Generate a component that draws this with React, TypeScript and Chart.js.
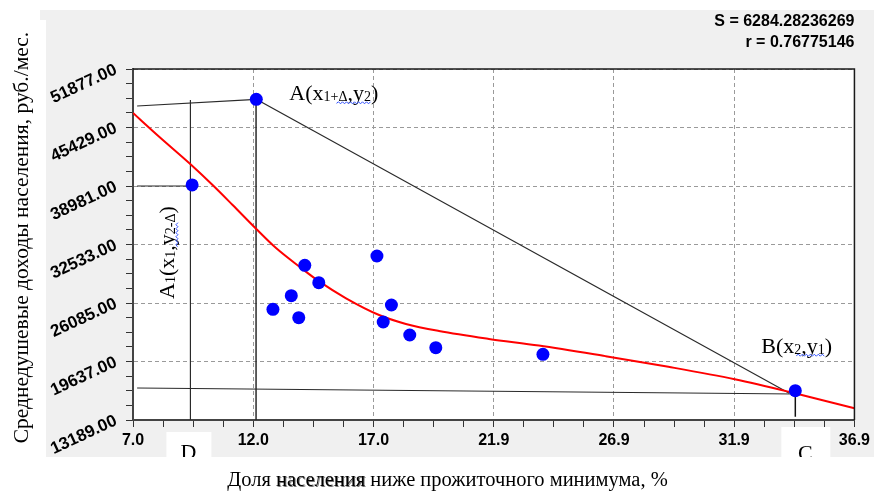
import React, { useEffect, useRef } from 'react';
import { Chart, registerables } from 'chart.js';

Chart.register(...registerables);

const W = 874;
const H = 493;

const X_MIN = 7.0;
const X_MAX = 36.9;
const Y_MIN = 13189;
const Y_MAX = 51877;

const xTickLabels = ['7.0', '12.0', '17.0', '21.9', '26.9', '31.9', '36.9'];
const yTickLabels = ['13189.00', '19637.00', '26085.00', '32533.00', '38981.00', '45429.00', '51877.00'];

// observed data points
const pointsX = [9.45, 12.11, 12.8, 13.56, 13.87, 14.12, 14.7, 17.11, 17.37, 17.71, 18.47, 19.55, 23.99, 34.45];
const pointsY = [39100, 48537, 25390, 26889, 24465, 30240, 28322, 31265, 23991, 25864, 22558, 21158, 20430, 16418];

// fitted (red) curve
const curveX = [7.0, 8.12, 9.35, 10.32, 11.13, 12.11, 12.94, 13.9, 14.73, 15.83, 17.2, 18.31, 19.68, 21.75, 23.82, 26.58, 29.19, 31.94, 34.43, 36.9];
const curveY = [47027, 44326, 41460, 39036, 36886, 34241, 32114, 30086, 28433, 26603, 24762, 23780, 22998, 22129, 21404, 20230, 19055, 17680, 16140, 14490];

// construction lines
const lineTopX = [7.17, 12.11];
const lineTopY = [47798, 48537];
const lineDiagX = [12.11, 34.2];
const lineDiagY = [48537, 16130];
const lineBottomX = [7.17, 34.45];
const lineBottomY = [16716, 16055];
const lineDX = [9.38, 9.38];
const lineDY = [48459, 13189];
const lineA1X = [7.17, 9.38];
const lineA1Y = [38980, 38980];
const lineAX = [12.1, 12.1];
const lineAY = [48537, 13189];
const lineCX = [34.45, 34.45];
const lineCY = [15834, 13553];

const statS = 'S = 6284.28236269';
const statR = 'r = 0.76775146';
const yTitle = 'Среднедушевые доходы населения, руб./мес.';
const xTitlePre = 'Доля ';
const xTitleMid = 'населения';
const xTitlePost = ' ниже прожиточного минимума, %';

const pairs = (xs: number[], ys: number[]) => xs.map((x, i) => ({ x, y: ys[i] }));

const SANS = '"Liberation Sans", Arial, sans-serif';
const SERIF = '"Liberation Serif", "Times New Roman", serif';

type Seg = { t: string; sub?: boolean };

function drawSegs(ctx: CanvasRenderingContext2D, segs: Seg[], x: number, y: number) {
  let cx = x;
  for (const s of segs) {
    ctx.font = s.sub ? `14px ${SERIF}` : `22px ${SERIF}`;
    ctx.fillText(s.t, cx, s.sub ? y + 1 : y);
    cx += ctx.measureText(s.t).width;
  }
  return cx;
}

function segWidth(ctx: CanvasRenderingContext2D, segs: Seg[], upto: number) {
  let w = 0;
  for (let i = 0; i < upto; i++) {
    ctx.font = segs[i].sub ? `14px ${SERIF}` : `22px ${SERIF}`;
    w += ctx.measureText(segs[i].t).width;
  }
  return w;
}

function wavy(ctx: CanvasRenderingContext2D, x0: number, x1: number, y: number) {
  ctx.save();
  ctx.strokeStyle = '#3050ff';
  ctx.lineWidth = 1;
  ctx.beginPath();
  let up = true;
  ctx.moveTo(x0, y);
  for (let x = x0 + 2; x <= x1; x += 2) {
    ctx.lineTo(x, up ? y - 1.5 : y + 0.5);
    up = !up;
  }
  ctx.stroke();
  ctx.restore();
}

function buildTicks(min: number, max: number, labels: string[]) {
  const n = labels.length - 1;
  const step = (max - min) / n;
  const ticks: any[] = [];
  for (let i = 0; i <= n; i++) {
    for (let k = 0; k < 4; k++) {
      if (i === n && k > 0) break;
      const v = min + i * step + (k * step) / 4;
      ticks.push({ value: v, major: k === 0, lbl: k === 0 ? labels[i] : '' });
    }
  }
  return ticks;
}

const decorPlugin = {
  id: 'decor',
  beforeDraw(chart: any) {
    const { ctx, chartArea, scales } = chart;
    ctx.save();
    ctx.fillStyle = '#ffffff';
    ctx.fillRect(0, 0, W, H);
    ctx.fillStyle = '#f0f0f0';
    ctx.fillRect(40, 10, W - 40, 10);
    ctx.fillRect(46, 20, W - 46, 437);
    ctx.fillStyle = '#ffffff';
    ctx.fillRect(chartArea.left, chartArea.top, chartArea.right - chartArea.left, chartArea.bottom - chartArea.top);
    const xD = scales.x.getPixelForValue(lineDX[0]);
    const xC = scales.x.getPixelForValue(lineCX[0]);
    ctx.fillRect(xD - 24, 432, 45, 25);
    ctx.fillRect(xC - 14, 427, 49, 30);
    ctx.restore();
  },
  afterDraw(chart: any) {
    const { ctx, chartArea, scales } = chart;
    const sx = scales.x;
    const sy = scales.y;
    ctx.save();
    // frame top/right
    ctx.strokeStyle = '#1a1a1a';
    ctx.lineWidth = 1.5;
    ctx.beginPath();
    ctx.moveTo(chartArea.left, chartArea.top);
    ctx.lineTo(chartArea.right, chartArea.top);
    ctx.lineTo(chartArea.right, chartArea.bottom);
    ctx.stroke();

    ctx.fillStyle = '#000';
    // stats
    ctx.font = `bold 16px ${SANS}`;
    ctx.textAlign = 'right';
    ctx.textBaseline = 'alphabetic';
    ctx.fillText(statS, chartArea.right, 26);
    ctx.fillText(statR, chartArea.right, 47);

    // axis titles
    ctx.textAlign = 'left';
    ctx.font = `20.5px ${SERIF}`;
    const wPre = ctx.measureText(xTitlePre).width;
    const wMid = ctx.measureText(xTitleMid).width;
    const wPost = ctx.measureText(xTitlePost).width;
    const total = wPre + wMid + wPost;
    const tx = 447.5 - total / 2;
    const ty = 486;
    ctx.fillStyle = '#000';
    ctx.fillText(xTitlePre, tx, ty);
    ctx.fillStyle = 'rgba(0,0,0,0.55)';
    ctx.fillText(xTitleMid, tx + wPre + 1, ty + 1);
    ctx.fillStyle = '#000';
    ctx.fillText(xTitleMid, tx + wPre, ty);
    ctx.fillText(xTitlePost, tx + wPre + wMid, ty);

    ctx.save();
    ctx.translate(28, 237.5);
    ctx.rotate(-Math.PI / 2);
    ctx.textAlign = 'center';
    ctx.font = `21.5px ${SERIF}`;
    ctx.fillText(yTitle, 0, 0);
    ctx.restore();

    // point annotations
    ctx.fillStyle = '#000';
    ctx.textAlign = 'left';
    const ax = sx.getPixelForValue(pointsX[1]);
    const ay = sy.getPixelForValue(pointsY[1]);
    const segA: Seg[] = [{ t: 'A(x' }, { t: '1+Δ', sub: true }, { t: ',y' }, { t: '2', sub: true }, { t: ')' }];
    const aStart = ax + 33;
    drawSegs(ctx, segA, aStart, ay + 1);
    wavy(ctx, aStart + segWidth(ctx, segA, 1) + 13, aStart + segWidth(ctx, segA, 4), ay + 4);

    const bx = sx.getPixelForValue(pointsX[13]);
    const by = sy.getPixelForValue(pointsY[13]);
    const segB: Seg[] = [{ t: 'B(x' }, { t: '2', sub: true }, { t: ',y' }, { t: '1', sub: true }, { t: ')' }];
    const bStart = bx - 34;
    drawSegs(ctx, segB, bStart, by - 38);
    wavy(ctx, bStart + segWidth(ctx, segB, 1) + 2, bStart + segWidth(ctx, segB, 4), by - 35);

    const a1x = sx.getPixelForValue(lineDX[0]) - 16;
    const a1y = sy.getPixelForValue(pointsY[0]) + 114;
    ctx.save();
    ctx.translate(a1x, a1y);
    ctx.rotate(-Math.PI / 2);
    const segA1: Seg[] = [
      { t: 'A' }, { t: '1', sub: true }, { t: '(x' }, { t: '1', sub: true }, { t: ',y' }, { t: '2-Δ', sub: true }, { t: ')' },
    ];
    drawSegs(ctx, segA1, 0, 0);
    wavy(ctx, segWidth(ctx, segA1, 4) + 4, segWidth(ctx, segA1, 6) - 8, 3);
    ctx.restore();

    // D and C labels (clipped at panel bottom)
    ctx.save();
    ctx.beginPath();
    ctx.rect(0, 0, W, 457);
    ctx.clip();
    ctx.font = `22px ${SERIF}`;
    ctx.textAlign = 'center';
    ctx.fillText('D', sx.getPixelForValue(lineDX[0]) - 2, 459);
    ctx.fillText('C', sx.getPixelForValue(lineCX[0]) + 10, 460);
    ctx.restore();

    ctx.restore();
  },
};

export default function App() {
  const ref = useRef<HTMLCanvasElement | null>(null);

  useEffect(() => {
    if (!ref.current) return;
    const lineDs = (xs: number[], ys: number[], color = '#2a2a2a', width = 1.2) => ({
      type: 'scatter' as const,
      data: pairs(xs, ys),
      showLine: true,
      borderColor: color,
      borderWidth: width,
      pointRadius: 0,
      pointHoverRadius: 0,
      fill: false,
    });
    const chart = new Chart(ref.current, {
      type: 'scatter',
      data: {
        datasets: [
          {
            data: pairs(pointsX, pointsY),
            backgroundColor: '#0000ff',
            borderColor: '#0000ff',
            borderWidth: 0,
            pointRadius: 6.5,
            showLine: false,
          },
          {
            data: pairs(curveX, curveY),
            showLine: true,
            borderColor: '#ff0000',
            borderWidth: 2,
            pointRadius: 0,
            cubicInterpolationMode: 'monotone',
          } as any,
          lineDs(lineTopX, lineTopY),
          lineDs(lineDiagX, lineDiagY),
          lineDs(lineBottomX, lineBottomY),
          lineDs(lineDX, lineDY),
          lineDs(lineA1X, lineA1Y),
          lineDs(lineAX, lineAY, '#2a2a2a', 1.5),
          lineDs(lineCX, lineCY, '#111', 1.5),
        ],
      },
      options: {
        animation: false,
        responsive: false,
        devicePixelRatio: 1,
        events: [],
        layout: { padding: { left: 0, top: 69, right: 17, bottom: 0 } },
        plugins: { legend: { display: false }, tooltip: { enabled: false }, title: { display: false } },
        scales: {
          x: {
            type: 'linear',
            min: X_MIN,
            max: X_MAX,
            afterBuildTicks: (axis: any) => {
              axis.ticks = buildTicks(X_MIN, X_MAX, xTickLabels);
            },
            afterFit: (axis: any) => {
              axis.height = H - 420;
            },
            ticks: {
              autoSkip: false,
              maxRotation: 0,
              minRotation: 0,
              padding: 4,
              color: '#000',
              font: { family: SANS, size: 16, weight: 'bold' },
              callback: (_v: any, i: number, ticks: any[]) => ticks[i].lbl,
            },
            grid: {
              color: (c: any) => (c.tick && c.tick.major ? '#9a9a9a' : 'rgba(0,0,0,0)'),
              tickColor: '#333',
              tickLength: 7,
              lineWidth: 1,
            },
            border: { color: '#444', width: 2, dash: [4, 3] },
          },
          y: {
            type: 'linear',
            min: Y_MIN,
            max: Y_MAX,
            afterBuildTicks: (axis: any) => {
              axis.ticks = buildTicks(Y_MIN, Y_MAX, yTickLabels);
            },
            afterFit: (axis: any) => {
              axis.width = 133;
            },
            ticks: {
              autoSkip: false,
              minRotation: 25,
              maxRotation: 25,
              padding: 10,
              color: '#000',
              font: { family: SANS, size: 17, weight: 'bold' },
              callback: (_v: any, i: number, ticks: any[]) => ticks[i].lbl,
            },
            grid: {
              color: (c: any) => (c.tick && c.tick.major ? '#9a9a9a' : 'rgba(0,0,0,0)'),
              tickColor: '#333',
              tickLength: 7,
              lineWidth: 1,
            },
            border: { color: '#444', width: 2, dash: [4, 3] },
          },
        },
      } as any,
      plugins: [decorPlugin],
    });
    return () => chart.destroy();
  }, []);

  return (
    <div style={{ position: 'fixed', left: 0, top: 0, width: W, height: H, background: '#fff' }}>
      <canvas ref={ref} width={W} height={H} style={{ display: 'block', width: W, height: H }} />
    </div>
  );
}
